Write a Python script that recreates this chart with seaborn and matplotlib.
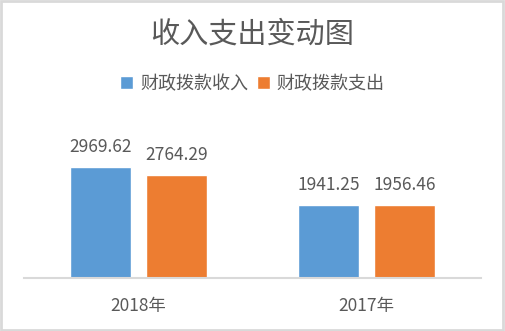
import matplotlib
matplotlib.use("Agg")
import matplotlib.pyplot as plt
import seaborn as sns
import pandas as pd
from matplotlib.patches import Rectangle

categories = ["2018年", "2017年"]
series_names = ["财政拨款收入", "财政拨款支出"]
income = [2969.62, 1941.25]
expense = [2764.29, 1956.46]
title = "收入支出变动图"

colors = ["#5B9BD5", "#ED7D31"]
text_color = "#595959"

df = pd.DataFrame({
    "year": categories * 2,
    "series": [series_names[0]] * len(categories) + [series_names[1]] * len(categories),
    "value": income + expense,
})

sns.set_theme(style="white")
plt.rcParams["font.family"] = ["Noto Sans CJK SC", "DejaVu Sans"]

fig = plt.figure(figsize=(5.05, 3.31), dpi=100)
ax = fig.add_axes([24 / 505, 1 - 277.5 / 331, 457 / 505, 130 / 331])

sns.barplot(data=df, x="year", y="value", hue="series", order=categories,
            hue_order=series_names, palette=colors, width=0.665, gap=0.2,
            saturation=1, ax=ax, legend=True)

ax.set_ylim(0, 3500)
ax.set_xlim(-0.5, 1.5)
ax.set_xlabel("")
ax.set_ylabel("")
ax.set_yticks([])
for s in ["top", "left", "right"]:
    ax.spines[s].set_visible(False)
ax.spines["bottom"].set_color("#D9D9D9")
ax.spines["bottom"].set_linewidth(1.5)
ax.tick_params(axis="x", length=0, pad=14, labelsize=12.5, colors=text_color)

for c in ax.containers:
    ax.bar_label(c, fmt="%.2f", padding=8, fontsize=12.5, color=text_color)

handles, labels = ax.get_legend_handles_labels()
if ax.legend_ is not None:
    ax.legend_.remove()
fig.legend(handles, labels, loc="center", bbox_to_anchor=(0.5, 1 - 84 / 331),
           ncol=2, frameon=False, fontsize=13, labelcolor=text_color,
           handlelength=0.7, handleheight=0.7, handletextpad=0.4,
           columnspacing=0.5)

fig.text(0.5, 1 - 34 / 331, title, ha="center", va="center",
         fontsize=21, color=text_color)

fig.patches.append(Rectangle((0.002, 0.003), 0.995, 0.993, transform=fig.transFigure,
                             fill=False, edgecolor="#D9D9D9", linewidth=2))

fig.savefig("out.png", dpi=100, facecolor="white")
